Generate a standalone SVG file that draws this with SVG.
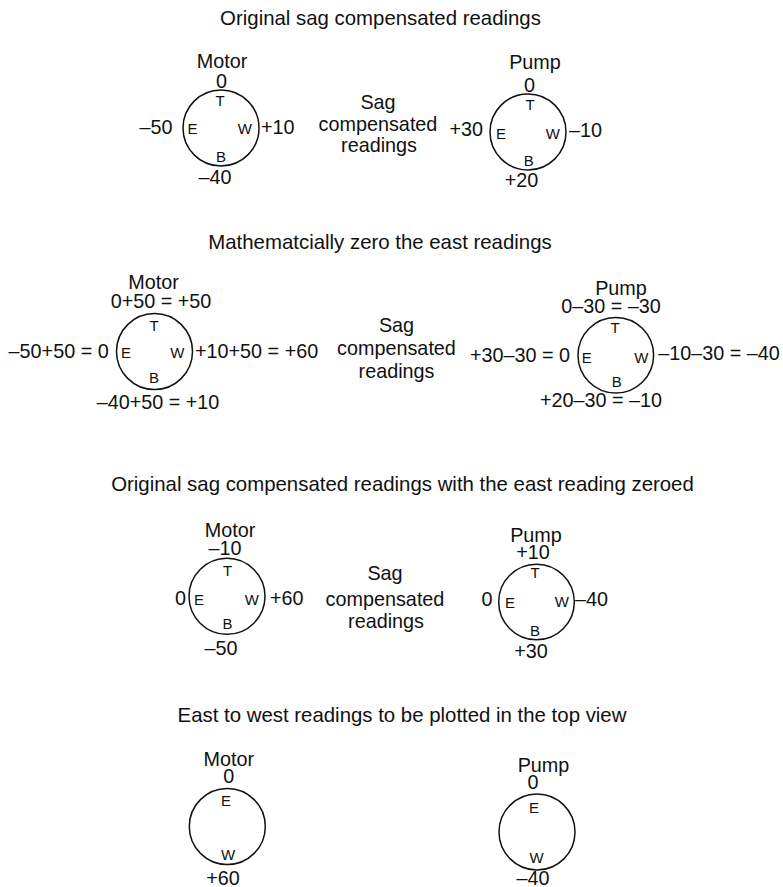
<svg xmlns="http://www.w3.org/2000/svg" width="783" height="887" viewBox="0 0 783 887">
<style>
text{font-family:"Liberation Sans",Arial,Helvetica,sans-serif;fill:#111}
.t{font-size:20.4px}
.n{font-size:19.8px}
.l{font-size:15px}
.m{text-anchor:middle}
.e{text-anchor:end}
.c{fill:none;stroke:#111;stroke-width:1.5}
</style>
<rect width="783" height="887" fill="#fff"/>

<!-- Section 1 -->
<text id="title1" class="t m" x="380.5" y="25">Original sag compensated readings</text>
<g id="motor1">
<circle class="c" cx="221" cy="128" r="38"/>
<text class="n m" x="222" y="68">Motor</text>
<text class="n m" x="221.5" y="88">0</text>
<text class="l m" x="220" y="106">T</text>
<text class="l" x="187.5" y="134">E</text>
<text class="l e" x="252" y="134">W</text>
<text class="l m" x="221" y="162">B</text>
<text class="n e" x="172.5" y="134">–50</text>
<text class="n" x="261" y="134">+10</text>
<text class="n m" x="215" y="183.5">–40</text>
</g>
<g id="sag1">
<text class="n m" x="378" y="108.5">Sag</text>
<text class="n m" x="378" y="130.5">compensated</text>
<text class="n m" x="379" y="152">readings</text>
</g>
<g id="pump1">
<circle class="c" cx="528" cy="132" r="38"/>
<text class="n m" x="535" y="69">Pump</text>
<text class="n m" x="529.5" y="91.5">0</text>
<text class="l m" x="530" y="110">T</text>
<text class="l" x="496" y="139">E</text>
<text class="l e" x="560" y="139">W</text>
<text class="l m" x="528.7" y="166">B</text>
<text class="n e" x="483" y="136">+30</text>
<text class="n" x="569" y="137">–10</text>
<text class="n m" x="521.5" y="187">+20</text>
</g>

<!-- Section 2 -->
<text id="title2" class="t m" x="380" y="249">Mathematcially zero the east readings</text>
<g id="motor2">
<circle class="c" cx="154.5" cy="351.5" r="38"/>
<text class="n m" x="153.5" y="289">Motor</text>
<text class="n m" x="161" y="308.3">0+50 = +50</text>
<text class="l m" x="154" y="331">T</text>
<text class="l" x="121" y="358.3">E</text>
<text class="l e" x="184.3" y="358.3">W</text>
<text class="l m" x="154" y="383.3">B</text>
<text class="n e" x="108.7" y="358">–50+50 = 0</text>
<text class="n" x="195" y="358">+10+50 = +60</text>
<text class="n m" x="158" y="409.3">–40+50 = +10</text>
</g>
<g id="sag2">
<text class="n m" x="396.5" y="331.7">Sag</text>
<text class="n m" x="396.5" y="355">compensated</text>
<text class="n m" x="396.5" y="378.3">readings</text>
</g>
<g id="pump2">
<circle class="c" cx="615.8" cy="355.2" r="37.8"/>
<text class="n m" x="621" y="295">Pump</text>
<text class="n m" x="611" y="312.7">0–30 = –30</text>
<text class="l m" x="615" y="332.7">T</text>
<text class="l" x="581.7" y="363.3">E</text>
<text class="l e" x="648.3" y="363">W</text>
<text class="l m" x="616.7" y="386.7">B</text>
<text class="n e" x="570" y="361.7">+30–30 = 0</text>
<text class="n" x="658.3" y="360">–10–30 = –40</text>
<text class="n m" x="601" y="406.7">+20–30 = –10</text>
</g>

<!-- Section 3 -->
<text id="title3" class="t m" x="402.5" y="491">Original sag compensated readings with the east reading zeroed</text>
<g id="motor3">
<circle class="c" cx="227" cy="596.3" r="38"/>
<text class="n m" x="230" y="536.7">Motor</text>
<text class="n m" x="225" y="555">–10</text>
<text class="l m" x="227.5" y="576">T</text>
<text class="l" x="194" y="605">E</text>
<text class="l e" x="259" y="605">W</text>
<text class="l m" x="227.5" y="629.3">B</text>
<text class="n e" x="186" y="605">0</text>
<text class="n" x="270" y="605">+60</text>
<text class="n m" x="221" y="655">–50</text>
</g>
<g id="sag3">
<text class="n m" x="385" y="580">Sag</text>
<text class="n m" x="385" y="605.7">compensated</text>
<text class="n m" x="386" y="628.3">readings</text>
</g>
<g id="pump3">
<circle class="c" cx="536.5" cy="602" r="37.8"/>
<text class="n m" x="536" y="541.7">Pump</text>
<text class="n m" x="533" y="559">+10</text>
<text class="l m" x="535" y="578.3">T</text>
<text class="l" x="505" y="608.3">E</text>
<text class="l e" x="569" y="606.7">W</text>
<text class="l m" x="535" y="636">B</text>
<text class="n e" x="492.5" y="605.7">0</text>
<text class="n" x="575" y="605.7">–40</text>
<text class="n m" x="531" y="658.3">+30</text>
</g>

<!-- Section 4 -->
<text id="title4" class="t m" x="402" y="722">East to west readings to be plotted in the top view</text>
<g id="motor4">
<circle class="c" cx="227.3" cy="826.5" r="38"/>
<text class="n m" x="228.8" y="766">Motor</text>
<text class="n m" x="228.7" y="783.3">0</text>
<text class="l m" x="226" y="806">E</text>
<text class="l m" x="228" y="860">W</text>
<text class="n m" x="223" y="884.5">+60</text>
</g>
<g id="pump4">
<circle class="c" cx="537" cy="832" r="38"/>
<text class="n m" x="543.5" y="771.7">Pump</text>
<text class="n m" x="533" y="789.3">0</text>
<text class="l m" x="534" y="813.3">E</text>
<text class="l m" x="536.7" y="863.3">W</text>
<text class="n m" x="533" y="884.5">–40</text>
</g>
<g id="connectors"/>
</svg>
